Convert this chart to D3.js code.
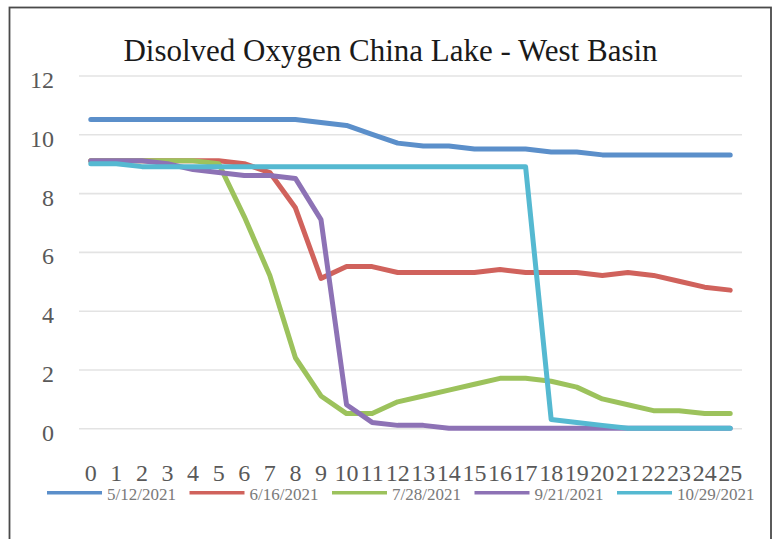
<!DOCTYPE html>
<html>
<head>
<meta charset="utf-8">
<script src="https://cdn.jsdelivr.net/npm/d3@7"></script>
<style>
  html, body { margin: 0; padding: 0; background: #fff; }
  svg { display: block; }
  text { font-family: "Liberation Serif", "Times New Roman", serif; }
</style>
</head>
<body>
<svg id="chart" width="776" height="539"></svg>
<script>
// Sample depth index (m) along the x axis
const depths = d3.range(0, 26).map(String);
const yTicks = [0, 2, 4, 6, 8, 10, 12];

// Dissolved oxygen (mg/L) per sampling date
const seriesNames = ["5/12/2021", "6/16/2021", "7/28/2021", "9/21/2021", "10/29/2021"];
const seriesColors = ["#5b8fca", "#d0625c", "#9cc25c", "#8d72b5", "#55b9d1"];
const do0512 = [10.5,10.5,10.5,10.5,10.5,10.5,10.5,10.5,10.5,10.4,10.3,10.0,9.7,9.6,9.6,9.5,9.5,9.5,9.4,9.4,9.3,9.3,9.3,9.3,9.3,9.3];
const do0616 = [9.1,9.1,9.1,9.1,9.1,9.1,9.0,8.7,7.5,5.1,5.5,5.5,5.3,5.3,5.3,5.3,5.4,5.3,5.3,5.3,5.2,5.3,5.2,5.0,4.8,4.7];
const do0728 = [9.1,9.1,9.1,9.1,9.1,9.0,7.2,5.2,2.4,1.1,0.5,0.5,0.9,1.1,1.3,1.5,1.7,1.7,1.6,1.4,1.0,0.8,0.6,0.6,0.5,0.5];
const do0921 = [9.1,9.1,9.1,9.0,8.8,8.7,8.6,8.6,8.5,7.1,0.8,0.2,0.1,0.1,0,0,0,0,0,0,0,0,0,0,0,0];
const do1029 = [9.0,9.0,8.9,8.9,8.9,8.9,8.9,8.9,8.9,8.9,8.9,8.9,8.9,8.9,8.9,8.9,8.9,8.9,0.3,0.2,0.1,0,0,0,0,0];
const seriesValues = [do0512, do0616, do0728, do0921, do1029];

const svg = d3.select("#chart");

// Outer chart frame (bottom edge runs past the page)
svg.append("rect")
  .attr("x", 9.5).attr("y", 7.5)
  .attr("width", 761.5).attr("height", 560)
  .attr("fill", "none").attr("stroke", "#4a4a4a").attr("stroke-width", 1.8);

const x = d3.scaleBand().domain(depths).range([78, 743]).padding(0);
const y = d3.scaleLinear().domain([0, 12]).range([428.3, 75.5]);
const cx = d => x(d) + x.bandwidth() / 2;

// Title
svg.append("text")
  .attr("x", 390.5).attr("y", 61)
  .attr("text-anchor", "middle")
  .attr("font-size", 31)
  .attr("fill", "#1a1a1a")
  .text("Disolved Oxygen China Lake - West Basin");

// Horizontal gridlines + y labels
const yAxis = d3.axisLeft(y).tickValues(yTicks).tickSize(-(742 - 79)).tickFormat(d3.format("d")).tickPadding(25);
const gy = svg.append("g").attr("transform", "translate(79,0)").call(yAxis);
gy.select(".domain").remove();
gy.selectAll(".tick line").attr("stroke", "#e3e3e3").attr("stroke-width", 1.6);
gy.selectAll(".tick text")
  .attr("font-family", "Liberation Serif, serif")
  .attr("font-size", 24).attr("fill", "#595959")
  .attr("dy", null).attr("y", 12);

// Category axis labels
const xAxis = d3.axisBottom(x).tickSize(0).tickPadding(0);
const gx = svg.append("g").attr("transform", "translate(0,463)").call(xAxis);
gx.select(".domain").remove();
gx.selectAll(".tick text")
  .attr("font-family", "Liberation Serif, serif")
  .attr("font-size", 24).attr("fill", "#595959")
  .attr("dy", null).attr("y", 18);

// Series lines
const line = d3.line()
  .x((v, i) => cx(depths[i]))
  .y(v => y(v));

svg.append("g").selectAll("path")
  .data(seriesValues)
  .join("path")
  .attr("d", line)
  .attr("fill", "none")
  .attr("stroke", (d, i) => seriesColors[i])
  .attr("stroke-width", 5)
  .attr("stroke-linejoin", "round")
  .attr("stroke-linecap", "round");

// Legend
const legendX0 = 47, legendStep = 142.5, legendY = 492.7;
const lg = svg.append("g").selectAll("g")
  .data(seriesNames)
  .join("g")
  .attr("transform", (d, i) => `translate(${legendX0 + i * legendStep},${legendY})`);
lg.append("line")
  .attr("x1", 0).attr("x2", 55).attr("y1", 0).attr("y2", 0)
  .attr("stroke", (d, i) => seriesColors[i]).attr("stroke-width", 3.5);
lg.append("text")
  .attr("x", 60).attr("y", 7)
  .attr("font-size", 17).attr("fill", "#7a7a7a")
  .text(d => d);
</script>
</body>
</html>
